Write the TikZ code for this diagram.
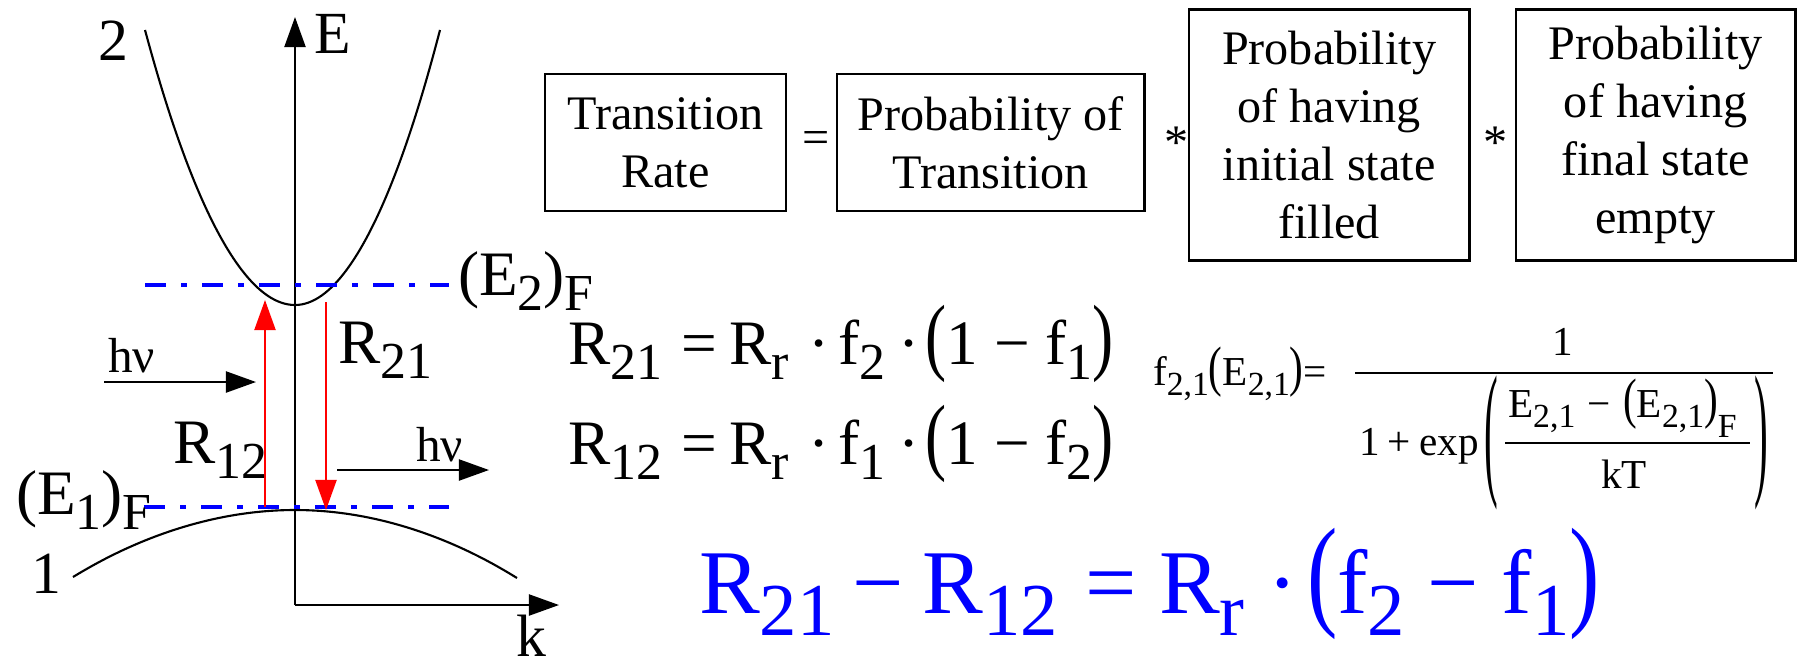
\documentclass[tikz,border=0pt]{standalone}
\usepackage{fontspec}
\setmainfont{Liberation Serif}
\usepackage{graphicx}
\usetikzlibrary{arrows.meta,positioning}
\newcommand{\sbs}[1]{\raisebox{-0.25em}{\scalebox{0.82}{#1}}}
\newcommand{\tallp}[1]{\scalebox{1}[1.35]{#1}}
\newcommand{\lblfont}{\fontsize{17}{20}\selectfont}
\newcommand{\eqfont}{\fontsize{18}{21}\selectfont}
\newcommand{\boxfont}{\fontsize{13.7}{16.5}\selectfont}
\newcommand{\hnufont}{\fontsize{14}{17}\selectfont}
\newcommand{\ffont}{\fontsize{11.7}{14}\selectfont}
\newcommand{\neteqfont}{\fontsize{25.9}{30}\selectfont}

\begin{document}
\begin{tikzpicture}[
    x=0.01cm, y=-0.01cm, line width=0.6pt,
    box/.style={draw, line width=0.75pt, align=center, font=\boxfont, inner sep=0pt},
    opsign/.style={font=\boxfont, inner sep=0pt},
    lbl/.style={inner sep=0pt, font=\lblfont},
    eqn/.style={inner sep=0pt, anchor=base west, font=\eqfont},
    fermi/.style={blue, line width=1.4pt, dash pattern=on 0.21cm off 0.15cm on 0.06cm off 0.15cm},
    arr/.style={-{Triangle[length=3mm,width=2.1mm]}},
    trans/.style={arr, red}
]
\useasboundingbox (0,0) rectangle (1803,666);

% bands and axes
\coordinate (O) at (295,605);
\draw[arr] (O) -- (295,17);
\draw[arr] (O) -- (559,605);
\node[lbl] (elbl) at (333,34) {E};
\node[lbl] (klbl) at (531,636) {k};
\draw (145,30) parabola bend (295,305) (440,30);
\draw (73,577) parabola bend (295,510) (517,578);
\node[lbl] (band2) at (113,41) {2};
\node[lbl] (band1) at (46,574) {1};

% quasi-Fermi levels
\draw[fermi] (145,285) -- (449,285);
\draw[fermi] (144,507) -- (449,507);
\node[eqn] (e2f) at (457,295) {(E\sbs{2})\sbs{F}};
\node[eqn] (e1f) at (15,514) {(E\sbs{1})\sbs{F}};

% transitions
\draw[trans] (265,507) -- (265,300);
\draw[trans] (326,302) -- (326,510);
\node[eqn] (r21lbl) at (337,363) {R\sbs{21}};
\node[eqn] (r12lbl) at (172,463) {R\sbs{12}};
\draw[arr] (104,382) -- (256,382);
\draw[arr] (337,470) -- (489,470);
\node[eqn, font=\hnufont] (hnuin) at (107,372) {hν};
\node[eqn, font=\hnufont] (hnuout) at (415,461) {hν};

% word equation
\node[box, minimum width=2.41cm, minimum height=1.37cm] (rate) at (665.5,142.5) {Transition\\Rate};
\node[opsign, right=1.4mm of rate] (eqsign) {=};
\node[box, minimum width=3.07cm, minimum height=1.37cm, right=0.5mm of eqsign] (prob) {Probability of\\Transition};
\node[opsign, right=1.8mm of prob] (ast1) {*};
\node[box, minimum width=2.80cm, minimum height=2.51cm, right=-0.2mm of ast1, yshift=0.75mm] (init) {Probability\\of having\\initial state\\filled};
\node[opsign, right=1.2mm of init, yshift=-0.75mm] (ast2) {*};
\node[box, minimum width=2.79cm, minimum height=2.51cm, right=0.6mm of ast2, yshift=0.75mm] (final) {Probability\\of having\\final state\\empty};

% rate equations
\node[eqn] (rate21) at (567,364) {R\sbs{21}\hspace{.3em}=\hspace{.2em}R\sbs{r}\hspace{.3em}·\hspace{.15em}f\sbs{2}\hspace{.2em}·\hspace{.1em}\tallp{(}1\hspace{.25em}−\hspace{.25em}f\sbs{1}\tallp{)}};
\node[eqn] (rate12) at (567,464) {R\sbs{12}\hspace{.3em}=\hspace{.2em}R\sbs{r}\hspace{.3em}·\hspace{.15em}f\sbs{1}\hspace{.2em}·\hspace{.1em}\tallp{(}1\hspace{.25em}−\hspace{.25em}f\sbs{2}\tallp{)}};

% Fermi function
\node[eqn, font=\ffont] (fdef) at (1152,385) {f\sbs{2,1}\tallp{(}E\sbs{2,1}\tallp{)}=};
\coordinate (fbarl) at (1355,373);
\coordinate (fbarr) at (1773,373);
\draw[line width=0.45pt] (fbarl) -- (fbarr);
\node[eqn, font=\ffont, anchor=base] (fnum) at (1563,355) {1};
\node[eqn, font=\ffont] (fden) at (1358,455) {1\hspace{.2em}+\hspace{.2em}exp};
\node[inner sep=0pt, font=\ffont] (flpar) at (1491,443) {\scalebox{1}[3.6]{(}};
\node[inner sep=0pt, font=\ffont] (frpar) at (1761,443) {\scalebox{1}[3.6]{)}};
\node[eqn, font=\ffont] (fexpnum) at (1507,417) {E\sbs{2,1}\hspace{.3em}−\hspace{.3em}\tallp{(}E\sbs{2,1}\tallp{)}\raisebox{-0.5em}{\scalebox{0.82}{F}}};
\coordinate (ibarl) at (1505,443);
\coordinate (ibarr) at (1750,443);
\draw[line width=0.45pt] (ibarl) -- (ibarr);
\node[eqn, font=\ffont, anchor=base] (fkt) at (1624,488) {kT};

% net rate
\node[eqn, font=\neteqfont, text=blue] (net) at (698,613) {R\sbs{21}\hspace{.2em}−\hspace{.2em}R\sbs{12}\hspace{.3em}=\hspace{.25em}R\sbs{r}\hspace{.25em}·\hspace{.1em}\tallp{(}f\sbs{2}\hspace{.25em}−\hspace{.25em}f\sbs{1}\tallp{)}};
\end{tikzpicture}
\end{document}
